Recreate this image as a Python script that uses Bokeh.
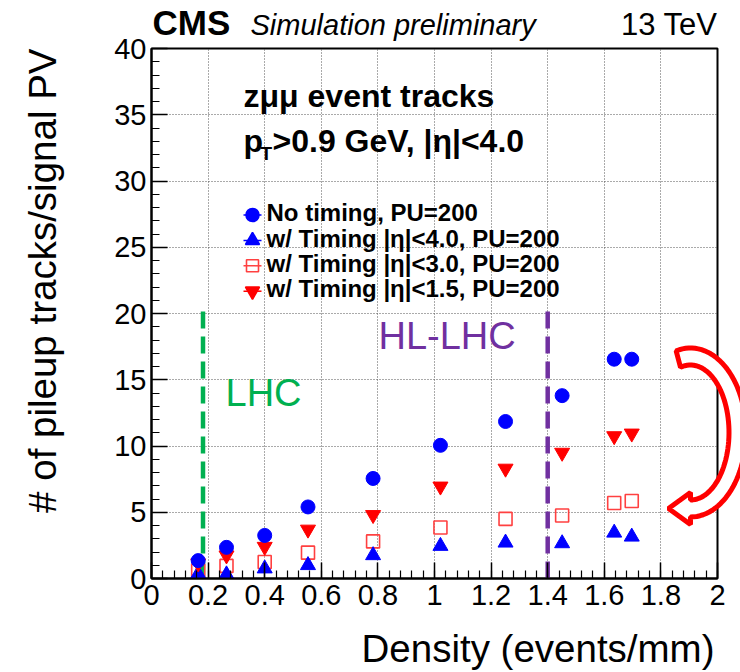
import numpy as np
from bokeh.plotting import figure
from bokeh.models import Range1d, FixedTicker, Label, ColumnDataSource
from bokeh.core.properties import value
from bokeh.embed import file_html
from bokeh.resources import INLINE

# ---------------- data ----------------
density = [0.165, 0.265, 0.40, 0.553, 0.783, 1.021, 1.251, 1.451, 1.635, 1.697]
no_timing = [1.35, 2.35, 3.25, 5.4, 7.55, 10.05, 11.85, 13.8, 16.55, 16.55]
timing_eta40 = [0.35, 0.3, 0.75, 1.0, 1.75, 2.45, 2.7, 2.65, 3.45, 3.15]
timing_eta30 = [0.6, 0.95, 1.25, 1.95, 2.8, 3.85, 4.5, 4.75, 5.7, 5.85]
timing_eta15 = [1.15, 1.75, 2.4, 3.7, 4.8, 6.95, 8.3, 9.5, 10.75, 10.95]

series_labels = ["No timing, PU=200",
                 "w/ Timing |η|<4.0, PU=200",
                 "w/ Timing |η|<3.0, PU=200",
                 "w/ Timing |η|<1.5, PU=200"]

x_ticks = [0, 0.2, 0.4, 0.6, 0.8, 1, 1.2, 1.4, 1.6, 1.8, 2]
x_tick_labels = ["0", "0.2", "0.4", "0.6", "0.8", "1", "1.2", "1.4", "1.6", "1.8", "2"]
y_ticks = [0, 5, 10, 15, 20, 25, 30, 35, 40]
y_tick_labels = ["0", "5", "10", "15", "20", "25", "30", "35", "40"]

lhc_x = 0.182       # LHC density boundary
hllhc_x = 1.4       # HL-LHC density boundary
boundary_top = 20.75

# ---------------- layout constants ----------------
W, H = 740, 672
L, R, T, B = 151, 23, 48, 94
X0, X1, Y0, Y1 = 0.0, 2.0, 0.0, 40.0
SX = (W - L - R) / (X1 - X0)      # px per x unit
SY = (H - T - B) / (Y1 - Y0)      # px per y unit
BASE_SHIFT = 0.37                 # measured baseline offset of rendered text (x font size)


def dx(px):
    return X0 + (px - L) / SX


def dy(py):
    return Y0 + (H - B - py) / SY


FONT = "Liberation Sans"
BLUE = "#0000ff"
RED = "#ff0000"
GREEN = "#00b050"
PURPLE = "#7030a0"

p = figure(width=W, height=H, x_range=Range1d(X0, X1), y_range=Range1d(Y0, Y1),
           output_backend="svg", toolbar_location=None,
           min_border_left=L, min_border_right=R, min_border_top=T, min_border_bottom=B,
           background_fill_color="white", border_fill_color="white")

p.outline_line_color = "black"
p.outline_line_width = 2
p.outline_line_alpha = 1.0

x_minor = [round(v, 2) for v in np.arange(0, 2.0001, 0.04)]
y_minor = list(range(0, 41))
p.xaxis.ticker = FixedTicker(ticks=x_ticks, minor_ticks=x_minor)
p.yaxis.ticker = FixedTicker(ticks=y_ticks, minor_ticks=y_minor)
p.xaxis.major_label_overrides = dict(zip(x_ticks, x_tick_labels))
p.yaxis.major_label_overrides = dict(zip(y_ticks, y_tick_labels))

for ax in (p.xaxis[0], p.yaxis[0]):
    ax.axis_line_color = "black"
    ax.axis_line_width = 2
    ax.major_tick_in = 16
    ax.major_tick_out = 0
    ax.minor_tick_in = 8
    ax.minor_tick_out = 0
    ax.major_tick_line_color = "black"
    ax.minor_tick_line_color = "black"
    ax.major_tick_line_width = 1.5
    ax.minor_tick_line_width = 1.2
    ax.major_label_text_font = FONT
    ax.major_label_text_font_size = "29px"
    ax.major_label_text_color = "black"
p.xaxis.major_label_standoff = 6
p.yaxis.major_label_standoff = 5

for g in (p.xgrid[0], p.ygrid[0]):
    g.grid_line_color = "#555555"
    g.grid_line_dash = "1 2"
    g.grid_line_width = 1

# boundary lines
p.line([lhc_x, lhc_x], [0, boundary_top], line_color=GREEN, line_width=4.5, line_dash="17 8")
p.line([hllhc_x, hllhc_x], [0, boundary_top], line_color=PURPLE, line_width=4.5, line_dash="17 8")

src = ColumnDataSource(dict(x=density, nt=no_timing, e40=timing_eta40, e30=timing_eta30, e15=timing_eta15))
p.scatter("x", "e30", source=src, marker="square", size=13, fill_color=None,
          line_color="#ff4040", line_width=1.6)
p.scatter("x", "e40", source=src, marker="triangle", size=15, color=BLUE)
p.scatter("x", "e15", source=src, marker="inverted_triangle", size=15, color=RED)
p.scatter("x", "nt", source=src, marker="circle", size=14, color=BLUE)


def inner_label(px, py, txt, size, style="normal", color="black"):
    """Text inside the frame; (px, py) = left end of the baseline in pixels."""
    p.add_layout(Label(x=dx(px), y=dy(py - BASE_SHIFT * size), text=txt, text_font=FONT,
                       text_font_style=style, text_font_size=f"{size}px", text_color=color,
                       text_baseline="alphabetic", text_align="left"))


def outer_text(px, py, txt, size, style="normal", align="left", vertical=False, color="black"):
    """Text outside the frame: drawn as an overlay-level glyph."""
    if vertical:
        px = px - BASE_SHIFT * size
        ang = np.pi / 2
    else:
        py = py - BASE_SHIFT * size
        ang = 0.0
    p.text(x=[dx(px)], y=[dy(py)], text=[txt], text_font=value(FONT),
           text_font_size=value(f"{size}px"), text_font_style=style, text_color=color,
           text_align=align, text_baseline="alphabetic", angle=ang, level="overlay")


# legend (manual, ROOT style: short line through the marker)
leg_px, leg_py0, leg_dpy = 252, 214.5, 25.4
leg_markers = [("circle", BLUE, BLUE, 13), ("triangle", BLUE, BLUE, 14),
               ("square", None, "#ff4040", 12), ("inverted_triangle", RED, RED, 14)]
leg_line_colors = [BLUE, BLUE, "#ff4040", RED]
for i, (lab, (mk, fc, lc, sz)) in enumerate(zip(series_labels, leg_markers)):
    py = leg_py0 + i * leg_dpy
    p.line([dx(leg_px - 9), dx(leg_px + 9)], [dy(py), dy(py)], line_color=leg_line_colors[i], line_width=1.5)
    p.scatter([dx(leg_px)], [dy(py)], marker=mk, size=sz, fill_color=fc, line_color=lc, line_width=1.6)
    inner_label(266, py + 6.5, lab, 24, style="bold")

# region labels
inner_label(225, 407, "LHC", 38, color=GREEN)
inner_label(378, 350, "HL-LHC", 38, color=PURPLE)

# info texts
inner_label(243, 107, "zμμ event tracks", 32, style="bold")
inner_label(243, 152, "p", 32, style="bold")
inner_label(260, 160, "T", 19, style="bold")
inner_label(272, 152, ">0.9 GeV, |η|<4.0", 32, style="bold")

# header
outer_text(152, 35, "CMS", 35, style="bold")
outer_text(250, 35, "Simulation preliminary", 29, style="italic")
outer_text(717, 35, "13 TeV", 31, align="right")

# axis titles
outer_text(714, 662, "Density (events/mm)", 38.5, align="right")
outer_text(56, 48, "# of pileup tracks/signal PV", 38.5, align="right", vertical=True)

# curved hollow arrow (annotation)
cx, cy, rx, ry, hw = 690.0, 432.0, 47.0, 76.0, 8.5
th_out = np.radians(np.linspace(105, -90, 60))
th_in = th_out[::-1]
ox = cx + (rx + hw) * np.cos(th_out)
oy = cy - (ry + hw) * np.sin(th_out)
ix = cx + (rx - hw) * np.cos(th_in)
iy = cy - (ry - hw) * np.sin(th_in)
hx = [cx, cx - 22, cx]
hy = [cy + ry + 16, cy + ry, cy + ry - 16]
apx = list(ox) + hx + list(ix)
apy = list(oy) + hy + list(iy)
p.patch([dx(v) for v in apx], [dy(v) for v in apy], fill_color="white", fill_alpha=1.0,
        line_color=RED, line_width=5, line_alpha=1.0, level="overlay")

open("out.html", "w").write(file_html(p, INLINE))
